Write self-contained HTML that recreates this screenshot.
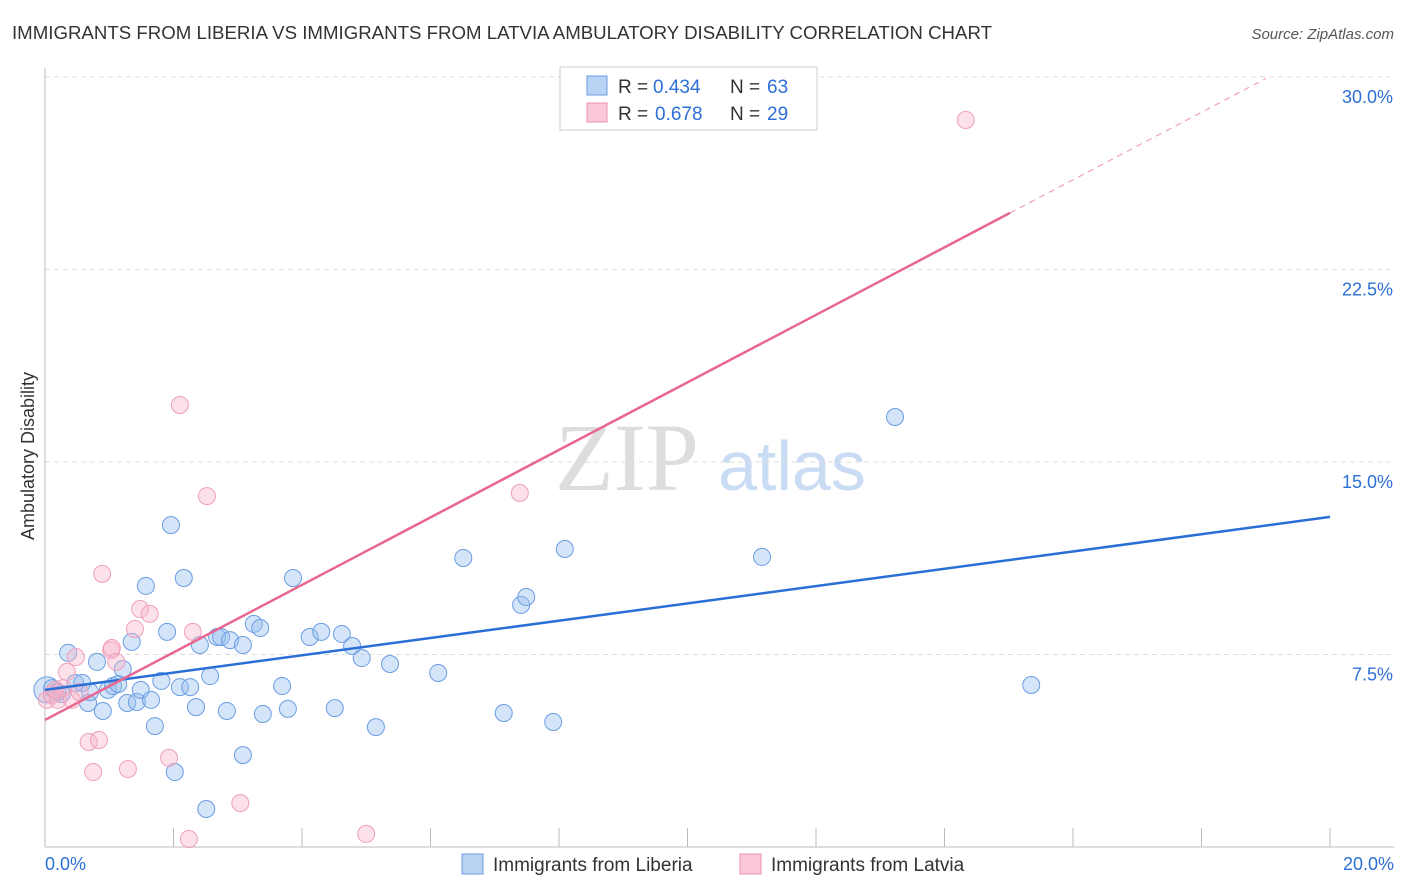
<!DOCTYPE html>
<html><head><meta charset="utf-8"><style>
body{margin:0;background:#fff;font-family:"Liberation Sans",sans-serif}
#wrap{position:relative;width:1406px;height:892px}
svg{position:absolute;left:0;top:0}
</style></head><body><div id="wrap">
<svg id="s" width="1406" height="892">
<text x="12" y="39" font-size="18" fill="#333" textLength="980" lengthAdjust="spacingAndGlyphs">IMMIGRANTS FROM LIBERIA VS IMMIGRANTS FROM LATVIA AMBULATORY DISABILITY CORRELATION CHART</text>
<text x="1394" y="39" font-size="15" fill="#555" font-style="italic" text-anchor="end">Source: ZipAtlas.com</text>
<text transform="translate(34,456) rotate(-90)" font-size="18" fill="#333" text-anchor="middle">Ambulatory Disability</text>
<text x="555" y="490" font-size="96" fill="#ddd" font-family="Liberation Serif,serif">ZIP</text>
<text x="718" y="490" font-size="70" fill="#c9dcf3">atlas</text>
<g id="grid"></g><g id="marks"></g>
<g>
<rect x="560" y="67" width="257" height="63" fill="#fff" stroke="#ccc"/>
<rect x="587" y="76" width="20" height="19" fill="#b9d3f5" stroke="#6b9be0"/>
<rect x="587" y="103" width="20" height="19" fill="#fbc8d8" stroke="#ee8fb0"/>
<text x="618" y="93" font-size="19" fill="#333">R =</text>
<text x="653" y="93" font-size="19" fill="#2c6fd6">0.434</text>
<text x="730" y="93" font-size="19" fill="#333">N =</text>
<text x="767" y="93" font-size="19" fill="#2c6fd6">63</text>
<text x="618" y="120" font-size="19" fill="#333">R =</text>
<text x="655" y="120" font-size="19" fill="#2c6fd6">0.678</text>
<text x="730" y="120" font-size="19" fill="#333">N =</text>
<text x="767" y="120" font-size="19" fill="#2c6fd6">29</text>
</g>
<g>
<rect x="462" y="854" width="21" height="20" fill="#b9d3f5" stroke="#6b9be0"/>
<text x="493" y="871" font-size="19" fill="#333">Immigrants from Liberia</text>
<rect x="740" y="854" width="21" height="20" fill="#fbc8d8" stroke="#ee8fb0"/>
<text x="771" y="871" font-size="19" fill="#333">Immigrants from Latvia</text>
</g>
</svg></div>
<script>
const yTicks=[7.5,15,22.5,30];
const yTickLabels=["7.5%","15.0%","22.5%","30.0%"];
const xTicks=[0,2,4,6,8,10,12,14,16,18,20];
const xEndLabels=["0.0%","20.0%"];
const liberiaX=[0.03,0.11,0.19,0.26,0.36,0.47,0.58,0.67,0.70,0.81,0.90,0.98,1.06,1.14,1.21,1.28,1.35,1.43,1.49,1.57,1.65,1.71,1.81,1.90,1.96,2.02,2.10,2.16,2.26,2.35,2.41,2.51,2.57,2.68,2.74,2.83,2.88,3.08,3.08,3.25,3.35,3.39,3.69,3.78,3.86,4.12,4.30,4.51,4.62,4.78,4.93,5.15,5.37,6.12,6.51,7.14,7.41,7.49,7.91,8.09,11.16,13.23,15.35];
const liberiaY=[6.12,6.19,6.04,5.96,7.56,6.39,6.39,5.61,6.04,7.21,5.30,6.12,6.27,6.35,6.93,5.61,7.99,5.65,6.12,10.17,5.73,4.71,6.47,8.38,12.54,2.92,6.23,10.48,6.23,5.45,7.87,1.48,6.66,8.18,8.18,5.30,8.06,7.87,3.58,8.69,8.53,5.18,6.27,5.38,10.48,8.18,8.38,5.41,8.30,7.83,7.36,4.67,7.13,6.78,11.26,5.22,9.43,9.74,4.87,11.61,11.30,16.75,6.31];
const latviaX=[0.03,0.11,0.20,0.28,0.34,0.42,0.48,0.54,0.68,0.75,0.84,0.89,1.03,1.04,1.11,1.29,1.40,1.48,1.63,1.93,2.10,2.30,2.52,2.24,3.04,5.00,7.39,14.33,0.16];
const latviaY=[5.73,5.92,5.73,6.19,6.82,5.73,7.40,6.04,4.09,2.92,4.17,10.64,7.67,7.75,7.21,3.04,8.49,9.27,9.08,3.47,17.22,8.38,13.67,0.31,1.71,0.51,13.79,28.32,6.12];
const liberiaTrend=[6.12,12.86];
const latviaTrend=[4.95,1.315];
const X=v=>45+v*64.25, Y=v=>847-v*25.67;
const NS="http://www.w3.org/2000/svg";
function mk(p,t,a){const e=document.createElementNS(NS,t);for(const k in a)e.setAttribute(k,a[k]);p.appendChild(e);return e;}
const g=document.getElementById('grid'), m=document.getElementById('marks');
yTicks.forEach((t,i)=>{
 const l=mk(g,'line',{x1:45,x2:1394,y1:Y(t),y2:Y(t),stroke:'#ddd','stroke-dasharray':'5,4'});
 
 
 const tx=mk(g,'text',{x:1393,y:Y(t)+26,'font-size':18,fill:'#2c6fd6','text-anchor':'end'});
 tx.textContent=yTickLabels[i];
 
 
});
const ax=mk(g,'line',{x1:45,x2:45,y1:68,y2:847,stroke:'#bbb'});


const bx=mk(g,'line',{x1:45,x2:1394,y1:847,y2:847,stroke:'#bbb'});


xTicks.forEach(t=>{
 const l=mk(g,'line',{x1:X(t),x2:X(t),y1:828,y2:847,stroke:'#bbb'});
 
 
});
[[0,'start',45],[1,'end',1394]].forEach(([i,a,x])=>{
 const tx=mk(g,'text',{x:x,y:870,'font-size':18,fill:'#2c6fd6','text-anchor':a});
 tx.textContent=xEndLabels[i];
 
 
});
liberiaX.forEach((x,i)=>{
 const c=mk(m,'circle',{cx:X(x),cy:Y(liberiaY[i]),r:i==0?13:8.5,fill:'rgba(150,190,240,0.4)',stroke:'#6a9de3','stroke-width':1});
 
 
});
latviaX.forEach((x,i)=>{
 const c=mk(m,'circle',{cx:X(x),cy:Y(latviaY[i]),r:8.5,fill:'rgba(248,180,200,0.4)',stroke:'#ef9fbb','stroke-width':1});
 
 
});
const bl=mk(m,'line',{x1:X(0),y1:Y(liberiaTrend[0]),x2:X(20),y2:Y(liberiaTrend[1]),stroke:'#2a6fd6','stroke-width':2.5});


const pl=mk(m,'line',{x1:X(0),y1:Y(latviaTrend[0]),x2:X(15.02),y2:Y(latviaTrend[0]+latviaTrend[1]*15.02),stroke:'#e8668f','stroke-width':2.5});


const pd=mk(m,'line',{x1:X(15.02),y1:Y(latviaTrend[0]+latviaTrend[1]*15.02),x2:X(19),y2:Y(latviaTrend[0]+latviaTrend[1]*19),stroke:'#f0a0b8','stroke-width':1.2,'stroke-dasharray':'6,5'});


</script></body></html>
